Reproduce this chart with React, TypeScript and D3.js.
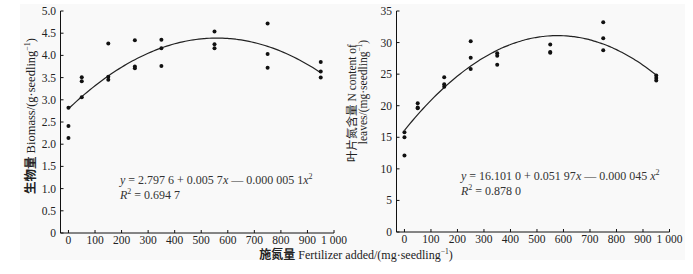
import React from "react";
import * as d3 from "d3";

const doses = [0, 50, 150, 250, 350, 550, 750, 950];
const biomass = [
  [2.82, 2.41, 2.14],
  [3.51, 3.42, 3.06],
  [4.27, 3.52, 3.45],
  [4.34, 3.75, 3.71],
  [4.35, 4.16, 3.76],
  [4.54, 4.25, 4.16],
  [4.72, 4.03, 3.72],
  [3.85, 3.64, 3.5],
];
const nContent = [
  [15.8, 15.0, 12.1],
  [20.4, 19.6, 19.7],
  [24.5, 23.4, 23.0],
  [30.2, 27.6, 25.8],
  [28.3, 27.9, 26.5],
  [29.7, 28.4, 28.5],
  [33.2, 30.7, 28.8],
  [24.8, 24.4, 24.0],
];
const biomassCoef = [2.7976, 0.0057, -0.0000051];
const nCoef = [16.101, 0.05197, -0.000045];
const xTicks = [0, 100, 200, 300, 400, 500, 600, 700, 800, 900, 1000];
const xTickLabels = ["0", "100", "200", "300", "400", "500", "600", "700", "800", "900", "1 000"];
const yTicksLeft = [0, 0.5, 1, 1.5, 2, 2.5, 3, 3.5, 4, 4.5, 5];
const yTickLabelsLeft = ["0", "0.5", "1.0", "1.5", "2.0", "2.5", "3.0", "3.5", "4.0", "4.5", "5.0"];
const yTicksRight = [0, 5, 10, 15, 20, 25, 30, 35];
const yTickLabelsRight = ["0", "5", "10", "15", "20", "25", "30", "35"];

const SERIF = "'Liberation Serif', 'DejaVu Serif', serif";
const CJK = "'Noto Sans CJK SC', sans-serif";

type PanelProps = {
  x0: number;
  x1: number;
  y0: number;
  y1: number;
  yMax: number;
  yTicks: number[];
  yLabels: string[];
  data: number[][];
  coef: number[];
  eq: string[];
  eqX: number;
  eqY: number;
};

function Panel(p: PanelProps) {
  const x = d3.scaleLinear().domain([-30, 1000]).range([p.x0, p.x1]);
  const y = d3.scaleLinear().domain([0, p.yMax]).range([p.y0, p.y1]);
  const fx = (v: number) => p.coef[0] + p.coef[1] * v + p.coef[2] * v * v;
  const xs = d3.range(0, 951, 10);
  const line = d3
    .line<number>()
    .x((v) => x(v))
    .y((v) => y(fx(v)))
    .curve(d3.curveMonotoneX);
  return (
    <g>
      <line x1={p.x0} x2={x(1000)} y1={p.y0} y2={p.y0} stroke="#111" strokeWidth={1} />
      <line x1={p.x0} x2={p.x0} y1={p.y0} y2={p.y1} stroke="#111" strokeWidth={1} />
      {xTicks.map((t, i) => (
        <g key={"xt" + i}>
          <line x1={x(t)} x2={x(t)} y1={p.y0} y2={p.y0 - 3} stroke="#111" />
          <text x={x(t)} y={p.y0 + 11} textAnchor="middle" fontFamily={SERIF} fontSize={11.5} fill="#222">
            {xTickLabels[i]}
          </text>
        </g>
      ))}
      {p.yTicks.map((t, i) => (
        <g key={"yt" + i}>
          <line x1={p.x0} x2={p.x0 + 3} y1={y(t)} y2={y(t)} stroke="#111" />
          <text x={p.x0 - 4.5} y={y(t) + 4} textAnchor="end" fontFamily={SERIF} fontSize={11.5} fill="#222">
            {p.yLabels[i]}
          </text>
        </g>
      ))}
      <path d={line(xs) || ""} fill="none" stroke="#222" strokeWidth={1.2} />
      {p.data.map((vals, i) =>
        vals.map((v, j) => <circle key={i + "-" + j} cx={x(doses[i])} cy={y(v)} r={2} fill="#111" />)
      )}
      <text x={p.eqX} y={p.eqY} fontFamily={SERIF} fontSize={12} fill="#333">
        <tspan fontStyle="italic">y</tspan>
        {p.eq[0]}
        <tspan fontStyle="italic">x</tspan>
        {p.eq[1]}
        <tspan fontStyle="italic">x</tspan>
        <tspan fontSize={8} dy={-5}>2</tspan>
      </text>
      <text x={p.eqX} y={p.eqY + 15} fontFamily={SERIF} fontSize={12} fill="#333">
        <tspan fontStyle="italic">R</tspan>
        <tspan fontSize={8} dy={-5}>2</tspan>
        <tspan dy={5}>{p.eq[2]}</tspan>
      </text>
    </g>
  );
}

export default function App() {
  return (
    <svg
      width={693}
      height={274}
      style={{ position: "absolute", left: 0, top: 0, background: "#fff" }}
    >
      <rect x={20} y={4} width={665} height={256} fill="#f9f9f9" />
      <Panel
        x0={60.5}
        x1={334}
        y0={233}
        y1={11}
        yMax={5}
        yTicks={yTicksLeft}
        yLabels={yTickLabelsLeft}
        data={biomass}
        coef={biomassCoef}
        eq={[" = 2.797 6 + 0.005 7", " — 0.000 005 1", " = 0.694 7"]}
        eqX={120}
        eqY={184}
      />
      <Panel
        x0={396.5}
        x1={669.5}
        y0={232}
        y1={11}
        yMax={35}
        yTicks={yTicksRight}
        yLabels={yTickLabelsRight}
        data={nContent}
        coef={nCoef}
        eq={[" = 16.101 0 + 0.051 97", " — 0.000 045 ", " = 0.878 0"]}
        eqX={461}
        eqY={180}
      />
      <text
        transform="translate(35,116) rotate(-90)"
        textAnchor="middle"
        fontFamily={SERIF}
        fontSize={12.5}
        fill="#222"
      >
        <tspan fontFamily={CJK} fontWeight={700}>生物量</tspan>
        <tspan> Biomass/(g·seedling</tspan>
        <tspan fontSize={8} dy={-5}>−1</tspan>
        <tspan dy={5}>)</tspan>
      </text>
      <text
        transform="translate(356,103) rotate(-90)"
        textAnchor="middle"
        fontFamily={SERIF}
        fontSize={11.5}
        fill="#222"
      >
        <tspan fontFamily={CJK}>叶片氮含量</tspan>
        <tspan> N content of</tspan>
      </text>
      <text
        transform="translate(367,92) rotate(-90)"
        textAnchor="middle"
        fontFamily={SERIF}
        fontSize={11.5}
        fill="#222"
      >
        <tspan>leaves/(mg·seedling</tspan>
        <tspan fontSize={7.5} dy={-5}>−1</tspan>
        <tspan dy={5}>)</tspan>
      </text>
      <text x={356} y={258.5} textAnchor="middle" fontFamily={SERIF} fontSize={12} fill="#222">
        <tspan fontFamily={CJK} fontWeight={700}>施氮量</tspan>
        <tspan> Fertilizer added/(mg·seedling</tspan>
        <tspan fontSize={7.5} dy={-5}>−1</tspan>
        <tspan dy={5}>)</tspan>
      </text>
    </svg>
  );
}
